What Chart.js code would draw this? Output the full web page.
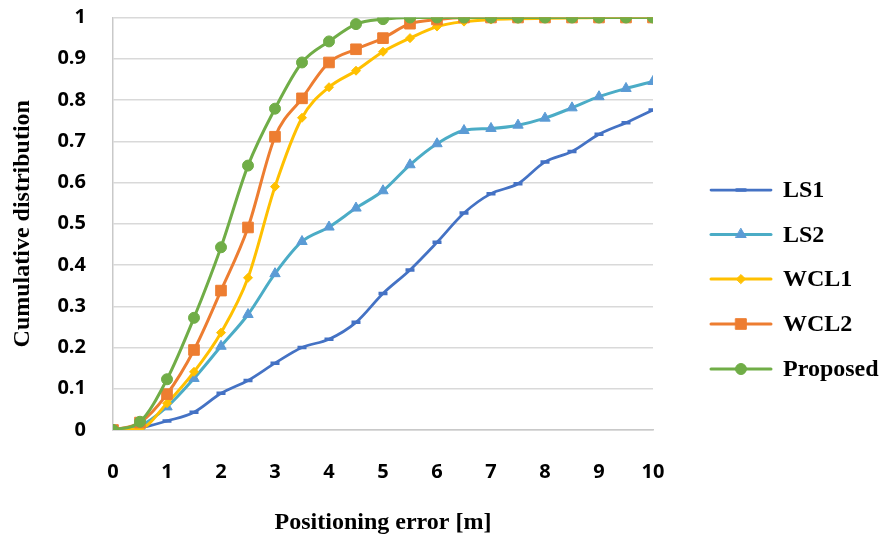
<!DOCTYPE html>
<html>
<head>
<meta charset="utf-8">
<script src="https://cdn.jsdelivr.net/npm/chart.js@4.4.1/dist/chart.umd.min.js"></script>
<style>
  html, body { margin: 0; padding: 0; background: #ffffff; }
  #wrap { width: 894px; height: 540px; position: relative; }
</style>
</head>
<body>
<div id="wrap"><canvas id="c" width="894" height="540"></canvas></div>
<script>
// ---- data ----
const errors   = [0, 0.5, 1, 1.5, 2, 2.5, 3, 3.5, 4, 4.5, 5, 5.5, 6, 6.5, 7, 7.5, 8, 8.5, 9, 9.5, 10];
const ls1      = [0, 0.005, 0.022, 0.043, 0.089, 0.12, 0.162, 0.2, 0.22, 0.261, 0.331, 0.388, 0.455, 0.526, 0.573, 0.597, 0.65, 0.675, 0.717, 0.745, 0.776];
const ls2      = [0, 0.01, 0.056, 0.125, 0.203, 0.28, 0.379, 0.457, 0.492, 0.538, 0.58, 0.643, 0.694, 0.726, 0.731, 0.739, 0.756, 0.781, 0.808, 0.828, 0.845];
const wcl1     = [0, 0.003, 0.065, 0.141, 0.236, 0.369, 0.59, 0.757, 0.831, 0.871, 0.917, 0.95, 0.978, 0.99, 0.995, 0.997, 0.998, 0.999, 1, 1, 1];
const wcl2     = [0, 0.018, 0.087, 0.194, 0.338, 0.491, 0.711, 0.804, 0.891, 0.923, 0.95, 0.985, 0.995, 1, 1, 1, 1, 1, 1, 1, 1];
const proposed = [0, 0.02, 0.123, 0.272, 0.443, 0.641, 0.779, 0.891, 0.942, 0.984, 0.996, 1, 1, 1, 1, 1, 1, 1, 1, 1, 1];

const seriesNames = ['LS1', 'LS2', 'WCL1', 'WCL2', 'Proposed'];
const xTickLabels = ['0', '1', '2', '3', '4', '5', '6', '7', '8', '9', '10'];
const yTickLabels = ['0', '0.1', '0.2', '0.3', '0.4', '0.5', '0.6', '0.7', '0.8', '0.9', '1'];
const xTitle = 'Positioning error [m]';
const yTitle = 'Cumulative distribution';

function pts(vals) { return vals.map((v, i) => ({ x: errors[i], y: v })); }

const styles = [
  { line: '#4472c4', mark: '#4472c4', style: 'line',     r: 4.5, bw: 3.5, lw: 2.75 },
  { line: '#4bacc6', mark: '#5b9bd5', style: 'triangle', r: 6,   bw: 1,   lw: 3 },
  { line: '#ffc000', mark: '#ffc000', style: 'rectRot',  r: 4.5, bw: 1,   lw: 3 },
  { line: '#ed7d31', mark: '#ed7d31', style: 'rect',     r: 7.5, bw: 1,   lw: 3 },
  { line: '#70ad47', mark: '#70ad47', style: 'circle',   r: 5.5, bw: 1,   lw: 3 }
];
const allValues = [ls1, ls2, wcl1, wcl2, proposed];

const datasets = allValues.map((vals, i) => ({
  label: seriesNames[i],
  data: pts(vals),
  borderColor: styles[i].line,
  backgroundColor: styles[i].mark,
  borderWidth: styles[i].lw,
  pointStyle: styles[i].style,
  pointRadius: styles[i].r,
  pointHoverRadius: styles[i].r,
  pointBackgroundColor: styles[i].mark,
  pointBorderColor: styles[i].mark,
  pointBorderWidth: styles[i].bw,
  cubicInterpolationMode: 'monotone',
  fill: false,
  order: 5 - i
}));

const serifBold = { family: '"Liberation Serif", "Times New Roman", serif', weight: 'bold', size: 24 };
const tickFont = { family: '"Open Sans", "Noto Sans", sans-serif', weight: 'bold', size: 20 };

const legendPlugin = {
  id: 'sideLegend',
  afterDraw(chart) {
    const ctx = chart.ctx;
    const x0 = 711, x1 = 771, tx = 783;
    const ys = [190, 234.5, 279, 324, 369];
    ctx.save();
    chart.data.datasets.forEach((ds, i) => {
      const y = ys[i];
      ctx.beginPath();
      ctx.strokeStyle = ds.borderColor;
      ctx.lineWidth = ds.borderWidth;
      ctx.lineCap = 'round';
      ctx.moveTo(x0, y);
      ctx.lineTo(x1, y);
      ctx.stroke();
      ctx.fillStyle = ds.pointBackgroundColor;
      ctx.strokeStyle = ds.pointBorderColor;
      ctx.lineWidth = ds.pointBorderWidth;
      if (Chart.helpers && Chart.helpers.drawPoint) {
        Chart.helpers.drawPoint(ctx, { pointStyle: ds.pointStyle, radius: ds.pointRadius, rotation: 0, borderWidth: ds.pointBorderWidth }, (x0 + x1) / 2, y);
      }
      ctx.fillStyle = '#000000';
      ctx.font = 'bold 24px "Liberation Serif", "Times New Roman", serif';
      ctx.textAlign = 'left';
      ctx.textBaseline = 'middle';
      ctx.fillText(ds.label, tx, y + 1);
    });
    ctx.restore();
  }
};

new Chart(document.getElementById('c'), {
  type: 'line',
  data: { datasets },
  options: {
    responsive: false,
    animation: false,
    devicePixelRatio: 1,
    layout: { padding: { left: 0, top: 17.5, right: 241, bottom: 0 } },
    plugins: { legend: { display: false }, tooltip: { enabled: false } },
    scales: {
      x: {
        type: 'linear',
        min: 0, max: 10,
        afterFit(scale) { scale.height = 110; scale.paddingLeft = 0; scale.paddingRight = 0; },
        ticks: {
          stepSize: 1,
          padding: 30,
          color: '#000000',
          font: tickFont,
          maxRotation: 0,
          callback: (v, i) => xTickLabels[i]
        },
        grid: { display: false, drawTicks: false },
        border: { display: true, color: '#c9c9c9', width: 1.5 },
        title: { display: true, text: xTitle, color: '#000000', font: serifBold, padding: { top: 0, bottom: 3 } }
      },
      y: {
        type: 'linear',
        min: 0, max: 1,
        afterFit(scale) { scale.width = 113; scale.paddingTop = 0; scale.paddingBottom = 0; },
        ticks: {
          stepSize: 0.1,
          padding: 27,
          color: '#000000',
          font: tickFont,
          callback: (v, i) => yTickLabels[i]
        },
        grid: { color: '#d9d9d9', lineWidth: 1.5, drawTicks: false },
        border: { display: true, color: '#c9c9c9', width: 1.5 },
        title: { display: true, text: yTitle, color: '#000000', font: serifBold, padding: { top: 8, bottom: 0 } }
      }
    }
  },
  plugins: [legendPlugin]
});
</script>
</body>
</html>
